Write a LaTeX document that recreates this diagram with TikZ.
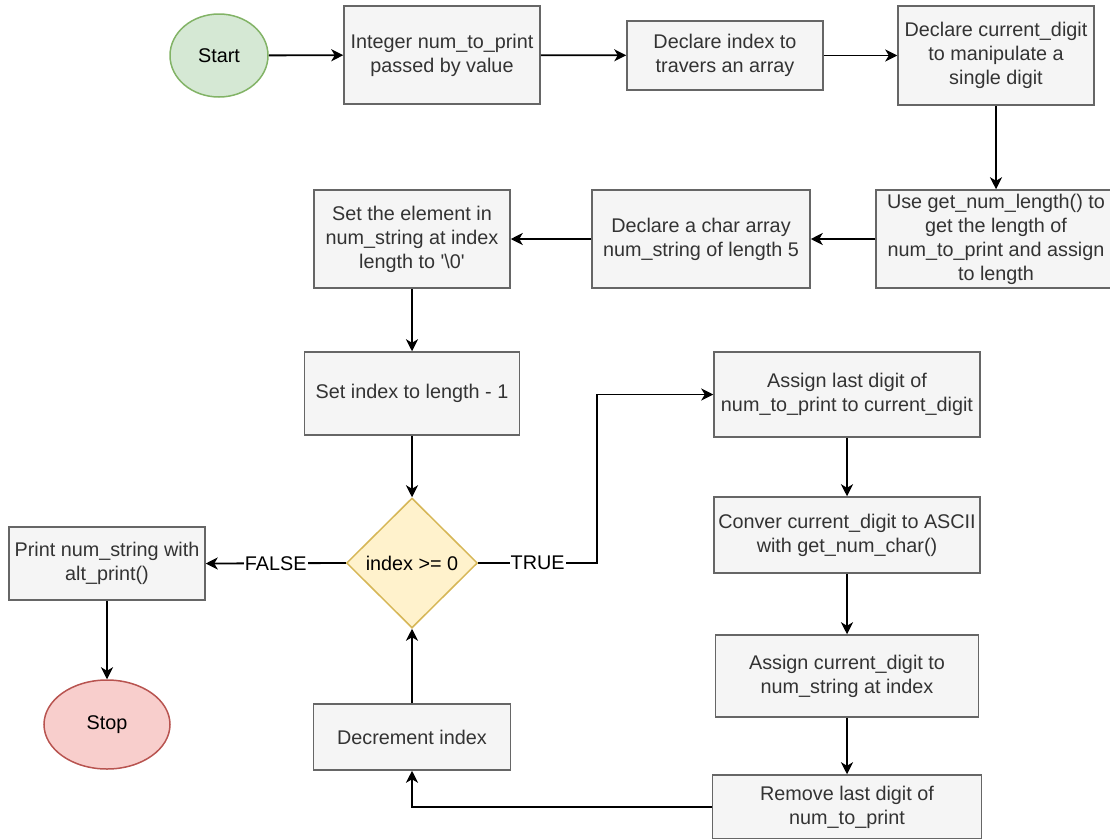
\documentclass[tikz,border=0pt]{standalone}
\usepackage{fontspec}
\setmainfont{Liberation Sans}
\newfontfamily\diafont{Liberation Sans}
\usetikzlibrary{shapes.geometric,arrows.meta}
\definecolor{boxfill}{HTML}{F5F5F5}
\definecolor{boxline}{HTML}{666666}
\definecolor{boxtext}{HTML}{333333}
\definecolor{startfill}{HTML}{D5E8D4}
\definecolor{startline}{HTML}{82B366}
\definecolor{stopfill}{HTML}{F8CECC}
\definecolor{stopline}{HTML}{B85450}
\definecolor{decfill}{HTML}{FFF2CC}
\definecolor{decline}{HTML}{D6B656}
\begin{document}
\begin{tikzpicture}[x=1pt,y=-1pt,
  font=\diafont\fontsize{19.8}{24}\selectfont,
  proc/.style={draw=boxline, fill=boxfill, text=boxtext, line width=1.5pt,
    inner sep=0pt, align=center, rectangle},
  term/.style={ellipse, line width=1.5pt, inner sep=0pt, text=black},
  cond/.style={diamond, draw=decline, fill=decfill, line width=1.5pt,
    inner sep=0pt, text=black},
  flow/.style={draw=black, line width=1.8pt,
    -{Stealth[length=12pt,width=12pt,inset=3.5pt]}},
  lbl/.style={fill=white, inner sep=1pt, text=black}]
\useasboundingbox (0,0) rectangle (1110,838);

% top row
\node[term, draw=startline, fill=startfill, minimum width=98, minimum height=83] (start) at (219,55.5) {Start};
\node[proc, minimum width=196, minimum height=98] (b1) at (442,55) {Integer num\_to\_print\\passed by value};
\node[proc, minimum width=196, minimum height=69] (b2) at (725,55.5) {Declare index to\\travers an array};
\node[proc, minimum width=196, minimum height=99] (b3) at (996,55.5) {Declare current\_digit\\to manipulate a\\single digit};

% second row
\node[proc, minimum width=240, minimum height=98] (b4) at (996,239) {Use get\_num\_length() to\\get the length of\\num\_to\_print and assign\\to length};
\node[proc, minimum width=218, minimum height=98] (b5) at (701,239) {Declare a char array\\num\_string of length 5};
\node[proc, minimum width=196, minimum height=98] (b6) at (412,239) {Set the element in\\num\_string at index\\length to '\textbackslash0'};

% loop set-up and test
\node[proc, minimum width=215, minimum height=83] (b7) at (412,393.5) {Set index to length - 1};
\node[cond, minimum width=131, minimum height=130] (test) at (412,563) {index >= 0};
\node[proc, minimum width=196, minimum height=73] (print) at (107,563.5) {Print num\_string with\\alt\_print()};
\node[term, draw=stopline, fill=stopfill, minimum width=126, minimum height=89] (stop) at (107,724.5) {Stop};
\node[proc, minimum width=197, minimum height=66] (decr) at (412,737) {Decrement index};

% loop body
\node[proc, minimum width=266, minimum height=85] (a1) at (847,394.5) {Assign last digit of\\num\_to\_print to current\_digit};
\node[proc, minimum width=266, minimum height=76] (a2) at (847,535) {Conver current\_digit to ASCII\\with get\_num\_char()};
\node[proc, minimum width=263, minimum height=82] (a3) at (847,676) {Assign current\_digit to\\num\_string at index};
\node[proc, minimum width=269, minimum height=64] (a4) at (847,807) {Remove last digit of\\num\_to\_print};

\coordinate (tbend) at (597,563);

% connectors
\draw[flow] (start) -- (b1);
\draw[flow] (b1) -- (b2);
\draw[flow] (b2) -- (b3);
\draw[flow] (b3) -- (b4);
\draw[flow] (b4) -- (b5);
\draw[flow] (b5) -- (b6);
\draw[flow] (b6) -- (b7);
\draw[flow] (b7) -- (test);
\draw[flow] (test.east) -- node[lbl] {TRUE} (tbend) |- (a1.west);
\draw[flow] (test.west) -- node[lbl] {FALSE} (print.east);
\draw[flow] (print) -- (stop);
\draw[flow] (a1) -- (a2);
\draw[flow] (a2) -- (a3);
\draw[flow] (a3) -- (a4);
\draw[flow] (a4.west) -| (decr.south);
\draw[flow] (decr) -- (test.south);
\end{tikzpicture}
\end{document}
